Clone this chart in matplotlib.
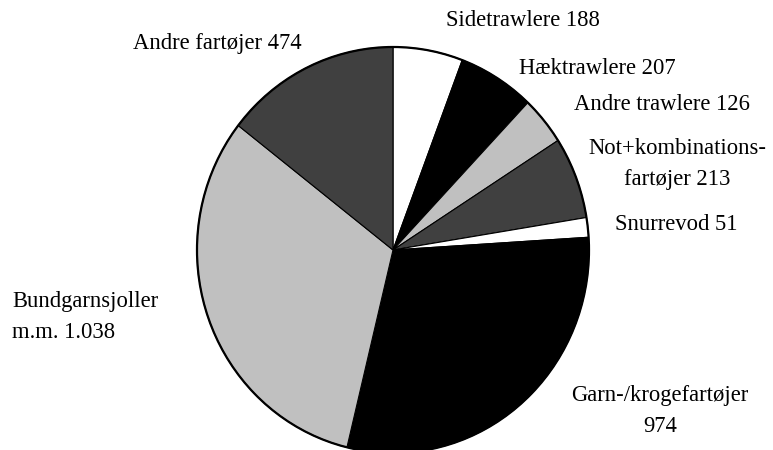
import matplotlib
matplotlib.use('Agg')
import matplotlib.pyplot as plt
from matplotlib.patches import Circle

# fartøjsgrupper, med uret fra kl. 12
groups = ['Sidetrawlere', 'Hæktrawlere', 'Andre trawlere', 'Not+kombinationsfartøjer',
          'Snurrevod', 'Garn-/krogefartøjer', 'Bundgarnsjoller m.m.', 'Andre fartøjer']
counts = [188, 207, 126, 213, 51, 974, 1038, 474]
fills = ['#ffffff', '#000000', '#c0c0c0', '#404040',
         '#ffffff', '#000000', '#c0c0c0', '#404040']

W, H = 773, 450
fig = plt.figure(figsize=(W / 100, H / 100), dpi=100)
fig.patch.set_facecolor('white')

# pie bounding box in pixels (slightly taller than wide, as in the original)
x0, x1, y0, y1 = 197, 589, 47, 453
ax = fig.add_axes([x0 / W, 1 - y1 / H, (x1 - x0) / W, (y1 - y0) / H])
wedges, _ = ax.pie(counts, colors=fills, startangle=90, counterclock=False,
                   wedgeprops=dict(edgecolor='black', linewidth=0.8))
for w in wedges:
    w.set_clip_on(False)
# heavier outer rim
rim = Circle((0, 0), 1, fill=False, edgecolor='black', linewidth=1.6, clip_on=False)
ax.add_patch(rim)
ax.set_aspect('auto')
ax.set_xlim(-1, 1)
ax.set_ylim(-1, 1)
ax.axis('off')

font = dict(family='Liberation Serif', fontsize=16.3, color='black')

def label(px, py, s, ha='left'):
    fig.text(px / W, 1 - py / H, s, ha=ha, va='center', **font)

label(446, 20, 'Sidetrawlere 188')
label(519, 68, 'Hæktrawlere 207')
label(574, 105, 'Andre trawlere 126')
label(677, 148, 'Not+kombinations-', ha='center')
label(677, 180, 'fartøjer 213', ha='center')
label(615, 224, 'Snurrevod 51')
label(133, 44, 'Andre fartøjer 474')
label(12, 302, 'Bundgarnsjoller')
label(12, 333, 'm.m. 1.038')
label(660, 396, 'Garn-/krogefartøjer', ha='center')
label(660, 427, '974', ha='center')

plt.savefig('out.png', dpi=100, facecolor='white')
